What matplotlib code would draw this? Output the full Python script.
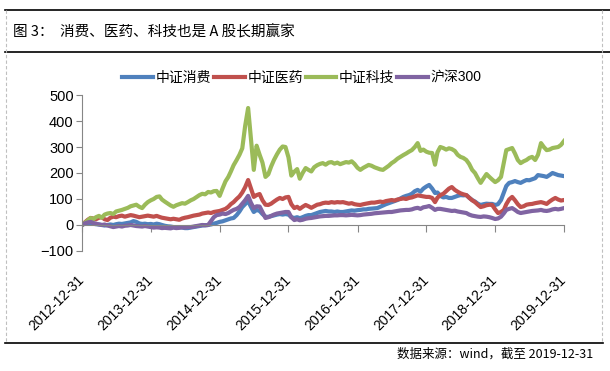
import matplotlib
matplotlib.use("Agg")
import matplotlib.pyplot as plt
import matplotlib.dates as mdates
from matplotlib.lines import Line2D
import pandas as pd

plt.rcParams['font.family'] = ['Liberation Sans', 'Noto Sans CJK SC', 'DejaVu Sans']

# semi-monthly observations, 2012-12-31 .. 2019-12-31 (cumulative return, %)
consumer = [
    0, 5, 8, 8, 5, 3, 2, 0, -2, 0, 2, 0, 3, 5, 4, 6, 8, 10, 15, 12,
    6, 4, 5, 3, 4, 2, 5, 3, 0, -3, -5, -6, -8, -10, -8, -10, -12, -12, -10, -8,
    -6, -4, -2, -1, 0, 2, 5, 8, 12, 14, 18, 22, 25, 27, 38, 52, 69, 80, 92, 70,
    50, 58, 54, 42, 32, 31, 34, 37, 40, 42, 40, 42, 40, 30, 27, 30, 26, 30, 35, 38,
    38, 42, 46, 50, 52, 54, 52, 52, 50, 52, 50, 50, 52, 54, 56, 55, 57, 58, 60, 60,
    62, 63, 64, 65, 70, 75, 80, 84, 88, 92, 96, 102, 108, 112, 115, 120, 130, 135, 128, 140,
    148, 154, 140, 123, 125, 112, 106, 108, 104, 104, 108, 112, 115, 114, 115, 105, 96, 90, 82, 77,
    80, 82, 81, 81, 77, 80, 96, 125, 150, 162, 165, 169, 165, 162, 168, 173, 172, 176, 180, 192,
    190, 188, 185, 192, 200, 196, 192, 190, 188,
]
pharma = [
    0, 10, 20, 27, 25, 22, 28, 30, 22, 19, 28, 32, 30, 34, 36, 32, 35, 38, 36, 33,
    30, 32, 34, 36, 34, 32, 35, 31, 28, 26, 24, 22, 24, 22, 20, 25, 28, 30, 33, 36,
    38, 40, 44, 46, 48, 46, 50, 52, 54, 58, 62, 70, 80, 88, 100, 110, 125, 145, 173, 140,
    108, 115, 119, 95, 78, 77, 82, 90, 98, 104, 100, 106, 108, 80, 65, 70, 62, 70, 77, 72,
    66, 72, 78, 80, 84, 86, 85, 88, 86, 88, 87, 88, 85, 82, 84, 80, 78, 77, 80, 82,
    84, 86, 86, 88, 90, 88, 92, 94, 96, 94, 98, 100, 102, 100, 104, 106, 110, 114, 112, 110,
    108, 108, 104, 88, 105, 115, 120, 130, 140, 146, 135, 128, 122, 118, 115, 105, 95, 88, 78, 69,
    72, 76, 78, 77, 60, 46, 50, 58, 80, 98, 108, 95, 80, 69, 72, 78, 80, 81, 84, 86,
    88, 85, 81, 90, 98, 104, 98, 94, 96,
]
tech = [
    0, 8, 18, 27, 22, 30, 35, 28, 40, 44, 46, 42, 52, 55, 58, 62, 66, 72, 75, 78,
    70, 65, 78, 88, 95, 100, 108, 110, 98, 90, 82, 75, 70, 76, 80, 84, 82, 88, 95, 100,
    108, 115, 120, 118, 127, 125, 130, 131, 112, 140, 168, 185, 205, 230, 250, 270, 295, 380, 450, 330,
    212, 305, 270, 240, 185, 195, 225, 250, 272, 290, 302, 300, 260, 190, 205, 215, 178, 200, 219, 212,
    206, 222, 230, 235, 238, 232, 240, 242, 236, 240, 234, 238, 242, 240, 245, 235, 220, 212, 220, 226,
    231, 228, 222, 218, 214, 212, 220, 228, 238, 245, 255, 262, 269, 275, 282, 288, 300, 315, 285, 290,
    282, 278, 277, 232, 280, 300, 296, 290, 295, 292, 285, 270, 262, 258, 250, 235, 212, 200, 180, 162,
    180, 196, 185, 175, 165, 172, 185, 240, 288, 292, 296, 275, 250, 238, 245, 250, 258, 262, 250, 270,
    315, 300, 288, 290, 296, 298, 300, 308, 323,
]
hs300 = [
    0, 6, 10, 12, 8, 5, 2, 0, 2, -2, -5, -8, -6, -4, -6, -3, -2, 0, -2, -4,
    -5, -6, -4, -6, -8, -10, -9, -10, -12, -11, -12, -13, -10, -12, -11, -9, -10, -8, -8, -6,
    -4, -2, 0, -1, 0, 15, 30, 38, 40, 44, 42, 46, 52, 58, 62, 69, 82, 95, 112, 85,
    65, 72, 71, 50, 27, 30, 35, 40, 44, 46, 48, 50, 50, 30, 19, 22, 18, 20, 24, 26,
    27, 29, 31, 33, 34, 35, 35, 36, 37, 37, 38, 38, 37, 38, 39, 38, 37, 38, 40, 41,
    42, 43, 45, 46, 47, 48, 49, 50, 50, 52, 54, 56, 57, 58, 58, 60, 64, 66, 62, 68,
    70, 73, 66, 58, 62, 62, 60, 58, 56, 54, 55, 52, 50, 48, 46, 40, 36, 34, 32, 31,
    33, 32, 30, 27, 23, 25, 32, 45, 58, 62, 65, 58, 50, 46, 48, 50, 52, 54, 55, 56,
    58, 55, 54, 56, 60, 62, 60, 62, 65,
]

series_names = ['中证消费', '中证医药', '中证科技', '沪深300']
series_colors = ['#4F81BD', '#C0504D', '#9BBB59', '#8064A2']
tick_dates = ['2012-12-31', '2013-12-31', '2014-12-31', '2015-12-31',
              '2016-12-31', '2017-12-31', '2018-12-31', '2019-12-31']

# dates: 15th and month end of every month
dates = [pd.Timestamp(2012, 12, 31)]
for y in range(2013, 2020):
    for m in range(1, 13):
        dates.append(pd.Timestamp(y, m, 15))
        dates.append(pd.Timestamp(y, m, 1) + pd.offsets.MonthEnd(0))

fig = plt.figure(figsize=(6.1, 3.71), dpi=100)
ax = fig.add_axes([0.1344, 0.3235, 0.7902, 0.4204])

for vals, name, col in zip([consumer, pharma, tech, hs300], series_names, series_colors):
    ax.plot(dates, vals, color=col, lw=3.0, label=name, solid_joinstyle='round')

ax.set_ylim(-100, 500)
ax.set_yticks(range(-100, 501, 100))
ticks = pd.to_datetime(tick_dates)
ax.set_xlim(ticks[0], ticks[-1])
ax.set_xticks(ticks)
ax.xaxis.set_major_formatter(mdates.DateFormatter('%Y-%m-%d'))

for s in ['top', 'right']:
    ax.spines[s].set_visible(False)
ax.spines['left'].set_color('#868686')
ax.spines['bottom'].set_color('#868686')
ax.spines['bottom'].set_position(('data', 0))
ax.tick_params(axis='y', colors='#868686', length=4, labelcolor='black', labelsize=10.5, pad=2)
ax.tick_params(axis='x', colors='#868686', length=5, labelcolor='black', labelsize=10, pad=33)
for lab in ax.get_xticklabels():
    lab.set_rotation(45)
    lab.set_ha('right')
    lab.set_va('center')
    lab.set_rotation_mode('anchor')

fig.legend(loc='center', bbox_to_anchor=(0.495, 0.79), ncol=4, frameon=False,
           fontsize=10, handlelength=2.2, handletextpad=0.2, columnspacing=0.2)

# frame decorations
W, H = 610.0, 371.0
def hline(y, x0, x1, **kw):
    fig.add_artist(Line2D([x0 / W, x1 / W], [1 - y / H, 1 - y / H], **kw))
def vline(x, y0, y1, **kw):
    fig.add_artist(Line2D([x / W, x / W], [1 - y0 / H, 1 - y1 / H], **kw))

hline(10, 5, 610, color='black', lw=1.2)
hline(52, 5, 610, color='black', lw=1.2)
hline(343, 5, 603, color='black', lw=1.2)
vline(6, 10, 343, color='#BFBFBF', lw=0.8, ls=(0, (3, 2)))
vline(602, 10, 343, color='#BFBFBF', lw=0.8, ls=(0, (3, 2)))

fig.text(13 / W, 1 - 32 / H, '图 3：  消费、医药、科技也是 A 股长期赢家', fontsize=10.5,
         va='center', ha='left', family=['Noto Sans CJK SC', 'DejaVu Sans'])
fig.text(593 / W, 1 - 354 / H, '数据来源：wind，截至 2019-12-31', fontsize=9,
         va='center', ha='right', family=['Noto Sans CJK SC', 'DejaVu Sans'])

fig.savefig('out.png', dpi=100)
